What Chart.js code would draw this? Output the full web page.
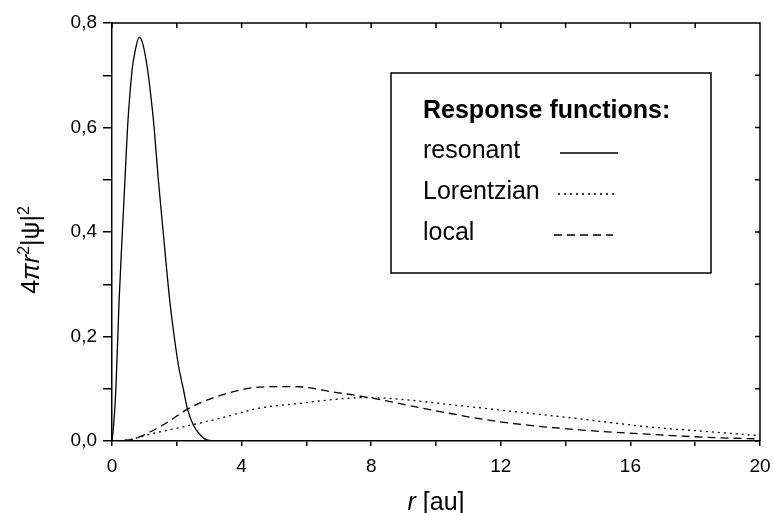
<!DOCTYPE html>
<html>
<head>
<meta charset="utf-8">
<script src="https://cdn.jsdelivr.net/npm/chart.js@4"></script>
<style>
  html, body { margin: 0; padding: 0; background: #fff; }
  #wrap { width: 773px; height: 513px; }
</style>
</head>
<body>
<div id="wrap"><canvas id="myChart" width="773" height="513"></canvas></div>
<script>
// series names
const seriesNames = ['resonant', 'Lorentzian', 'local'];

// resonant response (r in au, 4πr²|ψ|²)
const resonantR   = [0, 0.05, 0.12, 0.22, 0.32, 0.40, 0.48, 0.62, 0.71, 0.84, 0.95, 1.10, 1.20, 1.30, 1.43, 1.58, 1.78, 1.92, 2.05, 2.20, 2.33, 2.50, 2.65, 2.82, 3.00, 3.30];
const resonantVal = [0, 0.03, 0.10, 0.27, 0.40, 0.50, 0.60, 0.71, 0.745, 0.773, 0.76, 0.71, 0.66, 0.60, 0.50, 0.40, 0.27, 0.20, 0.145, 0.10, 0.061, 0.032, 0.017, 0.006, 0.001, 0];

// Lorentzian response
const lorentzR   = [0, 0.5, 1.17, 2.33, 3.23, 4.56, 5.78, 7.32, 7.94, 8.86, 10.4, 12.45, 14.5, 16.55, 18.6, 20];
const lorentzVal = [0, 0.002, 0.013, 0.029, 0.042, 0.063, 0.072, 0.082, 0.083, 0.080, 0.070, 0.056, 0.042, 0.027, 0.017, 0.010];

// local response
const localR   = [0, 0.3, 0.66, 1.0, 1.69, 2.33, 3.23, 4.25, 4.56, 5.0, 5.68, 6.81, 7.94, 9.89, 11.94, 14.5, 16.55, 18.6, 20];
const localVal = [0, 0.001, 0.004, 0.012, 0.035, 0.061, 0.085, 0.101, 0.103, 0.104, 0.104, 0.094, 0.083, 0.059, 0.037, 0.021, 0.013, 0.0064, 0.004];

// tick values
const xTicks = [0, 2, 4, 6, 8, 10, 12, 14, 16, 18, 20];
const yTicks = [0, 0.1, 0.2, 0.3, 0.4, 0.5, 0.6, 0.7, 0.8];

const FONT = '"Liberation Sans", Arial, sans-serif';

function pts(xs, ys) {
    return xs.map((v, i) => ({ x: v, y: ys[i] }));
}

const dashes = [[], [2, 4], [8, 5]];

// frame on top/right with inward ticks, legend box, axis titles
const decor = {
    id: 'decor',
    afterDraw(chart) {
        const { ctx, chartArea: a, scales: { x, y } } = chart;
        ctx.save();
        ctx.strokeStyle = '#000';
        ctx.lineWidth = 1.5;
        ctx.beginPath();
        ctx.moveTo(a.left, a.top);
        ctx.lineTo(a.right, a.top);
        ctx.lineTo(a.right, a.bottom);
        xTicks.forEach(v => {
            const px = x.getPixelForValue(v);
            ctx.moveTo(px, a.top);
            ctx.lineTo(px, a.top + 5);
        });
        yTicks.forEach(v => {
            const py = y.getPixelForValue(v);
            ctx.moveTo(a.right, py);
            ctx.lineTo(a.right - 5, py);
        });
        ctx.stroke();

        // legend box
        const bx = 391, by = 73, bw = 320, bh = 200;
        ctx.fillStyle = '#fff';
        ctx.fillRect(bx, by, bw, bh);
        ctx.strokeRect(bx, by, bw, bh);
        ctx.fillStyle = '#000';
        ctx.textBaseline = 'alphabetic';
        ctx.textAlign = 'left';
        ctx.font = 'bold 25px ' + FONT;
        ctx.fillText('Response functions:', 423, 118);
        ctx.font = '25px ' + FONT;
        const rows = [158, 199, 240];
        const lineX = [[560, 618], [558, 618], [554, 613]];
        seriesNames.forEach((name, i) => {
            ctx.fillText(name, 423, rows[i]);
            ctx.beginPath();
            ctx.setLineDash(dashes[i]);
            ctx.lineWidth = 1.3;
            ctx.moveTo(lineX[i][0], rows[i] - 5);
            ctx.lineTo(lineX[i][1], rows[i] - 5);
            ctx.stroke();
        });
        ctx.setLineDash([]);

        // x title: r [au]
        const cx = (a.left + a.right) / 2;
        ctx.font = 'italic 25px ' + FONT;
        const w1 = ctx.measureText('r').width;
        ctx.font = '25px ' + FONT;
        const w2 = ctx.measureText(' [au]').width;
        let sx = cx - (w1 + w2) / 2;
        ctx.font = 'italic 25px ' + FONT;
        ctx.fillText('r', sx, 510);
        ctx.font = '25px ' + FONT;
        ctx.fillText(' [au]', sx + w1, 510);

        // y title: 4πr²|ψ|²
        const segs = [
            { t: '4', f: '25px ' + FONT, dy: 0 },
            { t: 'πr', f: 'italic 25px ' + FONT, dy: 0 },
            { t: '2', f: '16px ' + FONT, dy: -10 },
            { t: '|ψ|', f: '25px ' + FONT, dy: 0 },
            { t: '2', f: '16px ' + FONT, dy: -10 }
        ];
        let total = 0;
        segs.forEach(s => { ctx.font = s.f; s.w = ctx.measureText(s.t).width; total += s.w; });
        ctx.translate(30, 250);
        ctx.rotate(-Math.PI / 2);
        let tx = -total / 2;
        segs.forEach(s => {
            ctx.font = s.f;
            ctx.fillText(s.t, tx, 9 + s.dy);
            tx += s.w;
        });
        ctx.restore();
    }
};

const ctx = document.getElementById('myChart').getContext('2d');
let chart = new Chart(ctx, {
    type: 'scatter',
    data: {
        datasets: [
            { label: seriesNames[0], data: pts(resonantR, resonantVal) },
            { label: seriesNames[1], data: pts(lorentzR, lorentzVal), borderDash: dashes[1] },
            { label: seriesNames[2], data: pts(localR, localVal), borderDash: dashes[2] }
        ].map(d => Object.assign({
            showLine: true,
            borderColor: '#000',
            backgroundColor: '#000',
            borderWidth: 1.3,
            pointRadius: 0,
            cubicInterpolationMode: 'monotone'
        }, d))
    },
    options: {
        responsive: false,
        animation: false,
        layout: { padding: { top: 23, right: 13, left: 0, bottom: 0 } },
        plugins: { legend: { display: false }, tooltip: { enabled: false } },
        scales: {
            x: {
                type: 'linear',
                min: 0,
                max: 20,
                afterFit: s => { s.height = 72; s.paddingLeft = 0; s.paddingRight = 0; },
                afterBuildTicks: s => { s.ticks = xTicks.map(v => ({ value: v })); },
                ticks: {
                    color: '#000',
                    padding: 9,
                    maxRotation: 0,
                    font: { family: FONT, size: 19 },
                    callback: v => (v % 4 === 0 ? String(v) : '')
                },
                grid: { drawOnChartArea: false, color: '#000', lineWidth: 1.5, tickLength: 5 },
                border: { color: '#000', width: 1.5 }
            },
            y: {
                min: 0,
                max: 0.8,
                afterFit: s => { s.width = 112; s.paddingTop = 0; s.paddingBottom = 0; },
                afterBuildTicks: s => { s.ticks = yTicks.map(v => ({ value: v })); },
                ticks: {
                    color: '#000',
                    padding: 6,
                    font: { family: FONT, size: 19 },
                    callback: v => (Math.round(v * 10) % 2 === 0 ? v.toFixed(1).replace('.', ',') : '')
                },
                grid: { drawOnChartArea: false, color: '#000', lineWidth: 1.5, tickLength: 9 },
                border: { color: '#000', width: 1.5 }
            }
        }
    },
    plugins: [decor]
});
</script>
</body>
</html>
